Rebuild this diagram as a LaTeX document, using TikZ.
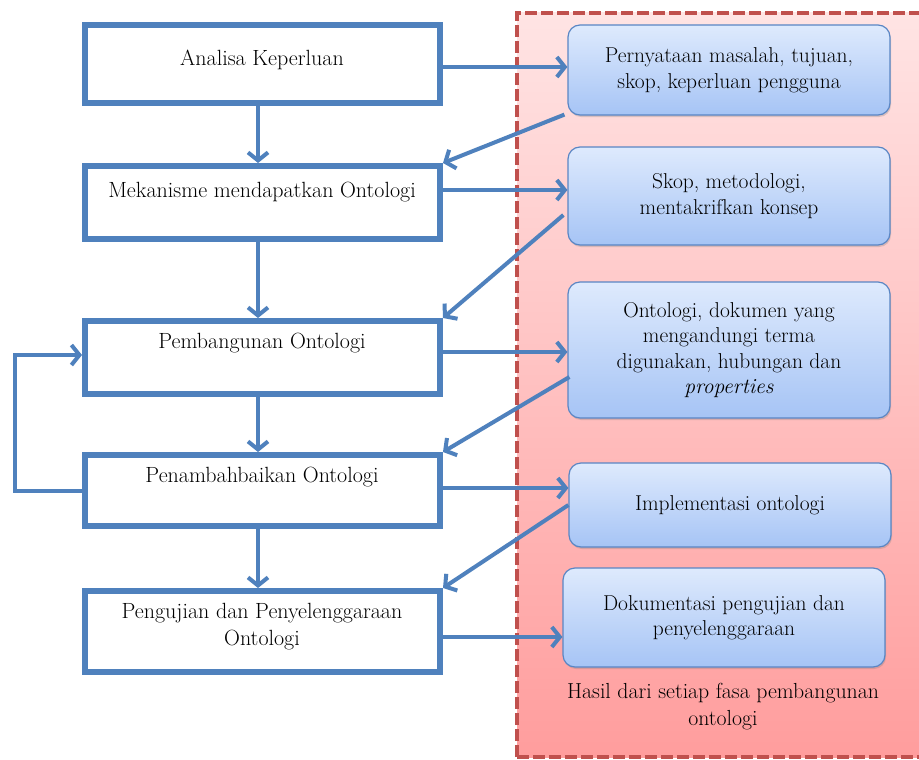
\documentclass[tikz,border=0pt]{standalone}
\usetikzlibrary{arrows.meta,calc,shadows}
\definecolor{obl}{HTML}{4F81BD}
\definecolor{dred}{HTML}{C0504D}
\definecolor{pinktop}{HTML}{FFE4E4}
\definecolor{pinkbot}{HTML}{FF9D9D}
\definecolor{bltop}{HTML}{DEEAFD}
\definecolor{blbot}{HTML}{A6C4F5}
\definecolor{blborder}{HTML}{5A86C4}
\definecolor{txt}{HTML}{000000}
\begin{document}
\begin{tikzpicture}[x=1pt,y=-1pt,
  lbox/.style={draw=obl,line width=6pt,minimum width=355pt,inner sep=0pt},
  ltext/.style={font=\fontsize{22}{26.5}\selectfont,text=txt,align=center,inner sep=0pt},
  rbox/.style={draw=blborder,line width=1.2pt,rounded corners=12pt,top color=bltop,bottom color=blbot,
    minimum width=322pt,inner sep=0pt,font=\fontsize{21.5}{25.5}\selectfont,text=txt,align=center,
    drop shadow={shadow xshift=1pt,shadow yshift=-2pt,opacity=0.3}},
  arr/.style={draw=obl,line width=4pt,-{Straight Barb[length=8pt,width=20pt]}}]
\useasboundingbox (0,0) rectangle (919,760);
\fill[white] (0,0) rectangle (919,760);
% red dashed area
\begin{scope}
\clip (0,0) rectangle (919,760);
\shade[top color=pinktop,bottom color=pinkbot] (517,13) rectangle (940,757);
\draw[dred,line width=4.5pt,dash pattern=on 12pt off 4pt] (517,757) -- (517,13) -- (940,13);
\draw[dred,line width=4.5pt,dash pattern=on 12pt off 4pt] (517,757) -- (940,757);
\end{scope}
% left boxes
\node[lbox,minimum height=78pt] (b1) at (262.5,64) {};
\node[lbox,minimum height=73pt] (b2) at (262.5,202.5) {};
\node[lbox,minimum height=73pt] (b3) at (262.5,357.5) {};
\node[lbox,minimum height=71pt] (b4) at (262.5,490.5) {};
\node[lbox,minimum height=81pt] (b5) at (262.5,631.5) {};
\node[ltext] (t1) at (262,60) {Analisa Keperluan};
\node[ltext] (t2) at (262,192) {Mekanisme mendapatkan Ontologi};
\node[ltext] (t3) at (262,343) {Pembangunan Ontologi};
\node[ltext] (t4) at (262,477) {Penambahbaikan Ontologi};
\node[ltext] (t5) at (262,626.5) {Pengujian dan Penyelenggaraan\\Ontologi};
% right boxes
\node[rbox,minimum height=90pt] (r1) at (729,70) {Pernyataan masalah, tujuan,\\skop, keperluan pengguna};
\node[rbox,minimum height=98pt] (r2) at (729,196) {Skop, metodologi,\\mentakrifkan konsep};
\node[rbox,minimum height=136pt] (r3) at (729,350) {Ontologi, dokumen yang\\mengandungi terma\\digunakan, hubungan dan\\\textit{properties}};
\node[rbox,minimum height=84pt] (r4) at (730,505) {Implementasi ontologi};
\node[rbox,minimum height=99pt] (r5) at (724,617.5) {Dokumentasi pengujian dan\\penyelenggaraan};
\node[ltext,font=\fontsize{21.8}{26.5}\selectfont] (cap) at (723,706.5) {Hasil dari setiap fasa pembangunan\\ontologi};
% vertical arrows
\draw[arr] ([xshift=-4.5pt]b1.south) -- ([xshift=-4.5pt]b2.north);
\draw[arr] ([xshift=-4.5pt]b2.south) -- ([xshift=-4.5pt]b3.north);
\draw[arr] ([xshift=-4.5pt]b3.south) -- ([xshift=-4.5pt]b4.north);
\draw[arr] ([xshift=-4.5pt]b4.south) -- ([xshift=-4.5pt]b5.north);
% feedback loop
\coordinate (fb) at (15,355);
\draw[arr] (b4.west) -| (fb) -- (fb -| b3.west);
% horizontal arrows
\draw[arr] (b1.east |- 0,67) -- (r1.west |- 0,67);
\draw[arr] (b2.east |- 0,190) -- (r2.west |- 0,190);
\draw[arr] (b3.east |- 0,352) -- (r3.west |- 0,352);
\draw[arr] (b4.east |- 0,488) -- (r4.west |- 0,488);
\draw[arr] (b5.east |- 0,637) -- (r5.west |- 0,637);
% back arrows
\draw[arr] ($(r1.south west)+(-3,-1)$) -- (b2.north east);
\draw[arr] ($(r2.west)+(-4,19)$) -- (b3.north east);
\draw[arr] ($(r3.west)+(2,27)$) -- (b4.north east);
\draw[arr] (r4.west) -- (b5.north east);
\end{tikzpicture}
\end{document}
